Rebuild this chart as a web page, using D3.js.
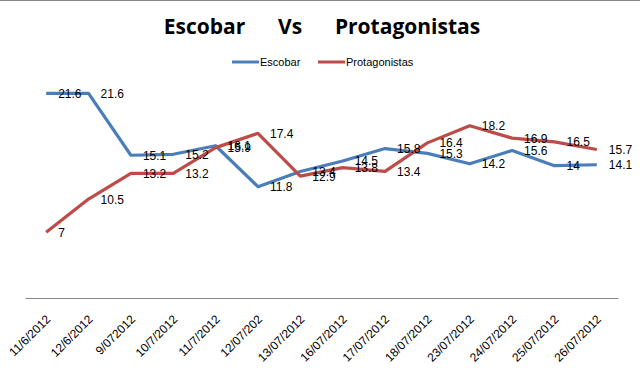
<!DOCTYPE html>
<html lang="es">
<head>
<meta charset="UTF-8">
<title>Escobar Vs Protagonistas</title>
<script src="https://cdn.jsdelivr.net/npm/d3@7"></script>
<style>
  body { margin: 0; background: #fff; }
  text { font-family: "Liberation Sans", Arial, sans-serif; }
</style>
</head>
<body>
<script>
    const fechas = ["11/6/2012", "12/6/2012", "9/072012", "10/7/2012", "11/7/2012", "12/07/202", "13/07/2012",
        "16/07/2012", "17/07/2012", "18/07/2012", "23/07/2012", "24/07/2012", "25/07/2012", "26/07/2012"];
    const escobar = [21.6, 21.6, 15.1, 15.2, 16.1, 11.8, 13.4, 14.5, 15.8, 15.3, 14.2, 15.6, 14, 14.1];
    const protagonistas = [7, 10.5, 13.2, 13.2, 15.9, 17.4, 12.9, 13.8, 13.4, 16.4, 18.2, 16.9, 16.5, 15.7];

    const width = 640, height = 375;
    const svg = d3.select("body").append("svg").attr("width", width).attr("height", height);

    svg.append("line").attr("x1", 0).attr("x2", width).attr("y1", 0.5).attr("y2", 0.5)
        .attr("stroke", "#888");

    const series = [
        {name: "Escobar", values: escobar, color: "#4a7ebb"},
        {name: "Protagonistas", values: protagonistas, color: "#be4b48"}
    ];

    const x = d3.scaleBand().domain(fechas).range([25, 618]);
    const y = d3.scaleLinear().domain([0, 25]).range([299, 61]);
    const cx = d => x(d) + x.bandwidth() / 2;

    // title
    svg.append("text")
        .attr("x", 322).attr("y", 34)
        .attr("text-anchor", "middle")
        .style("white-space", "pre")
        .style("font-family", "'Open Sans', sans-serif")
        .style("font-weight", "bold")
        .style("font-size", "21px")
        .text("Escobar      Vs      Protagonistas");

    // legend
    const legend = svg.append("g").attr("transform", "translate(232,62)");
    const lx = [0, 86];
    series.forEach((s, i) => {
        const g = legend.append("g").attr("transform", `translate(${lx[i]},0)`);
        g.append("line").attr("x1", 0).attr("x2", 27).attr("stroke", s.color).attr("stroke-width", 3);
        g.append("text").attr("x", 28).attr("y", 4).style("font-size", "11px").text(s.name);
    });

    // category axis
    const xAxis = svg.append("g").attr("transform", "translate(0,298)")
        .call(d3.axisBottom(x).tickSize(0).tickPadding(0));
    xAxis.select(".domain").attr("stroke", "#888").attr("stroke-width", 1.2);
    xAxis.selectAll(".tick text")
        .attr("text-anchor", "end")
        .attr("font-size", 12)
        .attr("font-family", "'Liberation Sans', Arial, sans-serif")
        .attr("fill", "#000")
        .attr("dy", 0)
        .attr("transform", "translate(5,22) rotate(-45)");

    const line = d3.line().x((d, i) => cx(fechas[i])).y(d => y(d));

    series.forEach(s => {
        svg.append("path").datum(s.values)
            .attr("fill", "none")
            .attr("stroke", s.color)
            .attr("stroke-width", 3.2)
            .attr("stroke-linejoin", "round")
            .attr("d", line);
    });

    series.forEach(s => {
        svg.append("g").selectAll("text").data(s.values).join("text")
            .attr("x", (d, i) => cx(fechas[i]) + 12)
            .attr("y", d => y(d) + 4.5)
            .style("font-size", "12px")
            .attr("fill", "#000")
            .text(d => d);
    });
</script>
</body>
</html>
